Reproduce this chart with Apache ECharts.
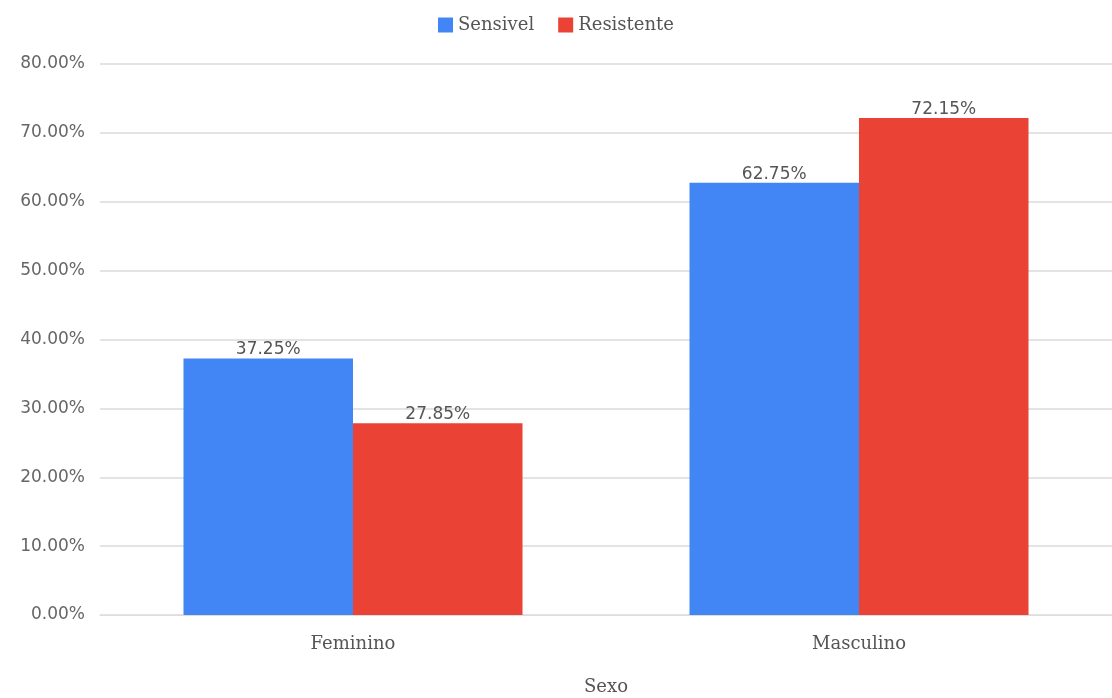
<!DOCTYPE html>
<html>
<head>
<meta charset="utf-8">
<script src="https://cdn.jsdelivr.net/npm/echarts@6/dist/echarts.min.js"></script>
<style>
  html, body { margin: 0; padding: 0; background: #fff; }
  #main { width: 1112px; height: 698px; }
</style>
</head>
<body>
<div id="main"></div>
<script>
var categories = ['Feminino', 'Masculino'];
var sensivel = [37.25, 62.75];
var resistente = [27.85, 72.15];
var seriesNames = ['Sensivel', 'Resistente'];

var myChart = echarts.init(document.getElementById('main'));

var serifFont = '"DejaVu Serif", serif';
var sansFont = '"DejaVu Sans", Verdana, sans-serif';

function pct(p) { return p.value.toFixed(2) + '%'; }

var option = {
    animation: false,
    legend: {
        data: seriesNames,
        top: 11,
        left: 'center',
        itemWidth: 15,
        itemHeight: 15,
        itemGap: 24,
        icon: 'rect',
        textStyle: { fontFamily: serifFont, fontSize: 18, color: '#555' }
    },
    grid: {
        left: 100,
        right: 0,
        top: 64,
        bottom: 83,
        outerBoundsMode: 'none'
    },
    xAxis: {
        type: 'category',
        data: categories,
        name: 'Sexo',
        nameLocation: 'middle',
        nameGap: 63,
        nameTextStyle: { fontFamily: serifFont, fontSize: 18, color: '#555' },
        axisTick: { show: false },
        axisLine: { lineStyle: { color: '#ddd' } },
        axisLabel: { fontFamily: serifFont, fontSize: 18, color: '#555', margin: 20 }
    },
    yAxis: {
        type: 'value',
        min: 0,
        max: 80,
        interval: 10,
        axisLabel: {
            fontFamily: sansFont,
            fontSize: 17,
            color: '#666',
            margin: 15,
            formatter: function (v) { return v.toFixed(2) + '%'; }
        },
        splitLine: { lineStyle: { color: '#e3e3e3', width: 2 } }
    },
    series: [
        {
            name: seriesNames[0],
            type: 'bar',
            data: sensivel,
            barGap: '0%',
            barCategoryGap: '33%',
            itemStyle: { color: '#4285F4' },
            label: { show: true, position: 'top', distance: 0, formatter: pct,
                     fontFamily: sansFont, fontSize: 17, color: '#555' }
        },
        {
            name: seriesNames[1],
            type: 'bar',
            data: resistente,
            itemStyle: { color: '#EA4335' },
            label: { show: true, position: 'top', distance: 0, formatter: pct,
                     fontFamily: sansFont, fontSize: 17, color: '#555' }
        }
    ]
};
myChart.setOption(option);
</script>
</body>
</html>
